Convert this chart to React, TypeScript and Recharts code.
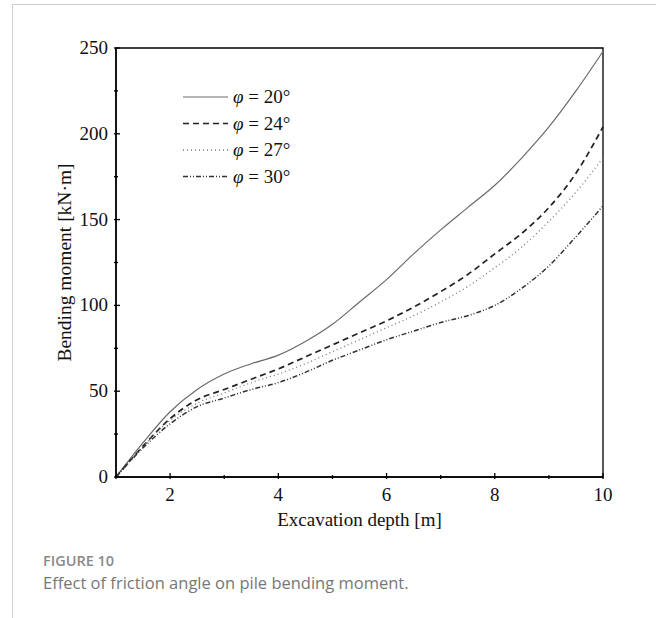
import React from "react";
import {
  LineChart,
  Line,
  XAxis,
  YAxis,
  ReferenceArea,
} from "recharts";

// Excavation depth [m]
const depth = [1, 1.5, 2, 2.5, 3, 3.5, 4, 4.5, 5, 5.5, 6, 6.5, 7, 7.5, 8, 8.5, 9, 9.5, 10];

// Bending moment [kN·m] per friction angle
const phi20 = [0, 20, 38, 51, 60, 66, 71, 79, 89, 102, 115, 130, 144, 157, 170, 186, 204, 225, 248];
const phi24 = [0, 18, 34, 45, 51, 57, 63, 70, 77, 84, 91, 99, 108, 118, 130, 142, 157, 177, 204];
const phi27 = [0, 18, 33, 43, 49, 55, 60, 66, 73, 80, 87, 94, 102, 111, 122, 134, 149, 166, 186];
const phi30 = [0, 17, 31, 41, 46, 51, 55, 61, 68, 74, 80, 85, 90, 94, 100, 110, 123, 140, 158];

const xTicks = [1, 2, 3, 4, 5, 6, 7, 8, 9, 10];
const yTicks = [0, 25, 50, 75, 100, 125, 150, 175, 200, 225, 250];

const series = [
  { key: "phi20", angle: "20", stroke: "#6a6a6a", width: 1.2, dash: undefined as string | undefined },
  { key: "phi24", angle: "24", stroke: "#222", width: 1.7, dash: "6 4" },
  { key: "phi27", angle: "27", stroke: "#777", width: 1.3, dash: "1 3" },
  { key: "phi30", angle: "30", stroke: "#333", width: 1.5, dash: "5 2 1 2 1 2" },
];

const data = depth.map((d, i) => ({
  depth: d,
  phi20: phi20[i],
  phi24: phi24[i],
  phi27: phi27[i],
  phi30: phi30[i],
}));

const SERIF = "'Liberation Serif', 'Times New Roman', serif";
const SANS = "'Open Sans', 'Noto Sans', sans-serif";

function XTick(props: any) {
  const { x, y, payload } = props;
  const v = payload.value as number;
  const major = v % 2 === 0;
  return (
    <g>
      <line x1={x} x2={x} y1={y} y2={y - (major ? 6 : 4)} stroke="#000" strokeWidth={1.3} />
      {major && (
        <text x={x} y={y + 22} textAnchor="middle" fontFamily={SERIF} fontSize={19} fill="#111">
          {v}
        </text>
      )}
    </g>
  );
}

function YTick(props: any) {
  const { x, y, payload } = props;
  const v = payload.value as number;
  const major = v % 50 === 0;
  return (
    <g>
      <line x1={x} x2={x + (major ? 6 : 4)} y1={y} y2={y} stroke="#000" strokeWidth={1.3} />
      {major && (
        <text x={x - 6} y={y + 6} textAnchor="end" fontFamily={SERIF} fontSize={19} fill="#111">
          {v}
        </text>
      )}
    </g>
  );
}

// legend drawn as a plain overlay so it doesn't eat into the plot area
function LegendBox() {
  return (
    <svg width={170} height={110}>
      {series.map((s, i) => {
        const cy = 14 + i * 26.5;
        return (
          <g key={s.key}>
            <line
              x1={3}
              x2={48}
              y1={cy}
              y2={cy}
              stroke={s.stroke}
              strokeWidth={s.width}
              strokeDasharray={s.dash}
            />
            <text x={53} y={cy + 6} fontFamily={SERIF} fontSize={19} fill="#111">
              <tspan fontStyle="italic">φ</tspan>
              {` = ${s.angle}°`}
            </text>
          </g>
        );
      })}
    </svg>
  );
}

export default function App() {
  return (
    <div style={{ position: "absolute", left: 0, top: 0, width: 656, height: 618, background: "#fff", overflow: "hidden" }}>
      <div
        style={{
          position: "absolute",
          left: 12,
          top: 4,
          width: 700,
          height: 700,
          border: "1px solid #cfcfcf",
        }}
      />
      <div style={{ position: "absolute", left: 0, top: 0 }}>
        <LineChart width={656} height={540} data={data} margin={{ top: 48, right: 53, left: 0, bottom: 0 }}>
          <XAxis
            dataKey="depth"
            type="number"
            domain={[1, 10]}
            ticks={xTicks}
            height={63}
            tickSize={0}
            tickLine={false}
            tick={<XTick />}
            axisLine={{ stroke: "#000", strokeWidth: 1.5 }}
            label={{ value: "Excavation depth [m]", position: "insideBottom", offset: 14, fontFamily: SERIF, fontSize: 19, fill: "#111" }}
          />
          <YAxis
            type="number"
            domain={[0, 250]}
            ticks={yTicks}
            width={116}
            tickSize={0}
            tickLine={false}
            tick={<YTick />}
            axisLine={{ stroke: "#000", strokeWidth: 1.5 }}
            label={{ value: "Bending moment [kN·m]", angle: -90, position: "insideLeft", offset: 64, style: { textAnchor: "middle" }, fontFamily: SERIF, fontSize: 19.5, fill: "#111" }}
          />
          <ReferenceArea x1={1} x2={10} y1={0} y2={250} fill="none" stroke="#000" strokeWidth={1.3} ifOverflow="visible" />
          {series.map((s) => (
            <Line
              key={s.key}
              dataKey={s.key}
              type="monotone"
              stroke={s.stroke}
              strokeWidth={s.width}
              strokeDasharray={s.dash}
              dot={false}
              activeDot={false}
              isAnimationActive={false}
            />
          ))}
        </LineChart>
      </div>
      <div style={{ position: "absolute", left: 180, top: 83 }}>
        <LegendBox />
      </div>
      <div
        style={{
          position: "absolute",
          left: 43,
          top: 551,
          fontFamily: SANS,
          fontSize: 14.5,
          fontWeight: 600,
          color: "#8a8a8a",
        }}
      >
        FIGURE 10
      </div>
      <div
        style={{
          position: "absolute",
          left: 43,
          top: 571,
          fontFamily: SANS,
          fontSize: 16.5,
          color: "#777",
        }}
      >
        Effect of friction angle on pile bending moment.
      </div>
    </div>
  );
}
